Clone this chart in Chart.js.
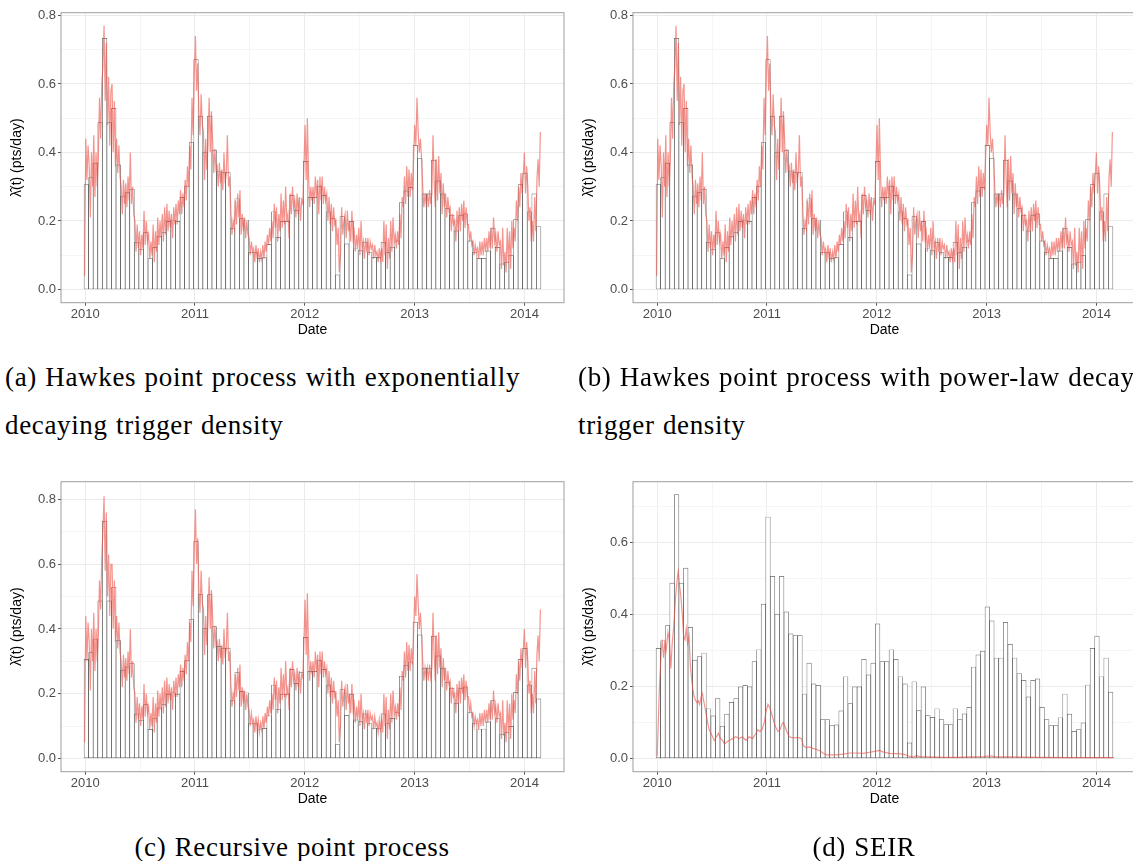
<!DOCTYPE html>
<html>
<head>
<meta charset="utf-8">
<script src="https://cdn.jsdelivr.net/npm/chart.js@4.4.1/dist/chart.umd.min.js"></script>
<style>
  html, body { margin: 0; padding: 0; background: #fff; }
  body { width: 1133px; height: 861px; overflow: hidden; position: relative; }
  .panel { position: absolute; width: 580px; height: 345px; }
  .cap { position: absolute; font-family: "Liberation Serif", "Times New Roman", serif; font-size: 27px;
         letter-spacing: 0.65px; word-spacing: 1px; color: #000; white-space: nowrap; line-height: 48px; }
</style>
</head>
<body>
<div class="panel" style="left:0;top:0"><canvas id="chartA"></canvas></div>
<div class="panel" style="left:572px;top:0"><canvas id="chartB"></canvas></div>
<div class="panel" style="left:0;top:469px"><canvas id="chartC"></canvas></div>
<div class="panel" style="left:572px;top:469px"><canvas id="chartD"></canvas></div>

<div class="cap" style="left:5px;top:353px">(a) Hawkes point process with exponentially</div>
<div class="cap" style="left:5px;top:401px">decaying trigger density</div>
<div class="cap" style="left:578px;top:353px">(b) Hawkes point process with power-law decaying</div>
<div class="cap" style="left:578px;top:401px">trigger density</div>
<div class="cap" style="left:0;width:584px;text-align:center;top:823px">(c) Recursive point process</div>
<div class="cap" style="left:572px;width:584px;text-align:center;top:823px">(d) SEIR</div>

<script>
// histogram bins (half-month-ish), decimal years
const binStart = 2009.99;
const binWidth = 0.0416;

// observed rate per bin (pts/day)
const observed = [
  0.306, 0.327, 0.369, 0.487, 0.733, 0.487, 0.529, 0.364, 0.273, 0.283,
  0.293, 0.138, 0.118, 0.166, 0.090, 0.123, 0.156, 0.166, 0.199, 0.203,
  0.199, 0.269, 0.302, 0.429, 0.671, 0.506, 0.401, 0.506, 0.407, 0.346,
  0.341, 0.341, 0.179, 0.265, 0.207, 0.203, 0.108, 0.108, 0.091, 0.093,
  0.132, 0.227, 0.152, 0.199, 0.199, 0.275, 0.232, 0.265, 0.374, 0.269,
  0.269, 0.302, 0.275, 0.227, 0.207, 0.043, 0.213, 0.133, 0.199, 0.119,
  0.114, 0.138, 0.108, 0.094, 0.094, 0.138, 0.108, 0.124, 0.142, 0.254,
  0.288, 0.298, 0.421, 0.382, 0.279, 0.279, 0.378, 0.317, 0.279, 0.236,
  0.217, 0.171, 0.217, 0.221, 0.142, 0.108, 0.091, 0.091, 0.113, 0.179,
  0.123, 0.075, 0.080, 0.099, 0.204, 0.306, 0.340, 0.227, 0.279, 0.184
];

// fitted intensity, 4 readings per bin
const samplesPerBin = 4;
const hawkesRate = [
  0.04,0.44,0.32,0.42, 0.36,0.21,0.40,0.30, 0.45,0.27,0.40,0.30, 0.38,0.56,0.44,0.60, 0.65,0.77,0.55,0.72,
  0.48,0.62,0.42,0.58, 0.60,0.40,0.55,0.36, 0.44,0.34,0.42,0.33, 0.30,0.22,0.32,0.25, 0.31,0.24,0.33,0.26,
  0.40,0.25,0.30,0.22, 0.20,0.11,0.19,0.12, 0.17,0.10,0.16,0.12, 0.23,0.13,0.20,0.14, 0.16,0.09,0.14,0.10,
  0.19,0.08,0.17,0.11, 0.21,0.13,0.20,0.15, 0.22,0.14,0.24,0.16, 0.25,0.17,0.23,0.18, 0.22,0.15,0.24,0.19,
  0.25,0.19,0.26,0.22, 0.29,0.22,0.28,0.24, 0.32,0.26,0.36,0.30, 0.42,0.35,0.56,0.45, 0.62,0.74,0.58,0.66,
  0.52,0.45,0.57,0.48, 0.46,0.32,0.44,0.35, 0.42,0.56,0.40,0.52, 0.44,0.34,0.41,0.35, 0.36,0.30,0.37,0.31,
  0.35,0.29,0.40,0.31, 0.34,0.45,0.30,0.33, 0.23,0.16,0.20,0.18, 0.26,0.19,0.28,0.21, 0.29,0.16,0.22,0.17,
  0.21,0.15,0.20,0.16, 0.15,0.10,0.14,0.11, 0.12,0.08,0.13,0.09, 0.12,0.08,0.11,0.09, 0.13,0.09,0.14,0.11,
  0.16,0.13,0.18,0.14, 0.20,0.15,0.25,0.18, 0.24,0.14,0.22,0.17, 0.28,0.18,0.26,0.19, 0.30,0.20,0.22,0.15,
  0.28,0.22,0.30,0.24, 0.26,0.21,0.28,0.22, 0.27,0.20,0.26,0.25, 0.36,0.48,0.32,0.50, 0.34,0.24,0.30,0.26,
  0.30,0.25,0.33,0.27, 0.32,0.22,0.33,0.26, 0.33,0.25,0.30,0.26, 0.28,0.20,0.27,0.19, 0.25,0.17,0.24,0.19,
  0.20,0.13,0.18,0.05, 0.10,0.24,0.16,0.20, 0.22,0.15,0.23,0.17, 0.20,0.14,0.23,0.15, 0.17,0.11,0.16,0.12,
  0.18,0.10,0.20,0.12, 0.14,0.09,0.15,0.11, 0.15,0.10,0.14,0.12, 0.13,0.09,0.13,0.10, 0.11,0.08,0.12,0.09,
  0.12,0.08,0.20,0.10, 0.19,0.06,0.15,0.09, 0.20,0.11,0.21,0.14, 0.16,0.12,0.17,0.13, 0.22,0.15,0.27,0.24,
  0.33,0.25,0.36,0.27, 0.35,0.27,0.34,0.29, 0.38,0.48,0.42,0.56, 0.46,0.40,0.44,0.38, 0.30,0.24,0.28,0.25,
  0.28,0.24,0.29,0.25, 0.28,0.45,0.32,0.24, 0.38,0.26,0.39,0.28, 0.34,0.22,0.31,0.24, 0.28,0.21,0.27,0.23,
  0.24,0.17,0.22,0.19, 0.20,0.14,0.23,0.17, 0.24,0.17,0.25,0.20, 0.26,0.18,0.24,0.19, 0.19,0.14,0.17,0.13,
  0.14,0.10,0.13,0.11, 0.12,0.09,0.14,0.10, 0.14,0.10,0.15,0.11, 0.15,0.11,0.17,0.12, 0.18,0.12,0.21,0.14,
  0.16,0.11,0.17,0.13, 0.14,0.06,0.18,0.07, 0.11,0.05,0.18,0.08, 0.17,0.06,0.20,0.12, 0.18,0.14,0.26,0.20,
  0.30,0.24,0.34,0.28, 0.33,0.40,0.28,0.36, 0.30,0.20,0.24,0.14, 0.20,0.14,0.27,0.17, 0.32,0.38,0.30,0.46
];

const recursiveRate = [
  0.05,0.44,0.30,0.42, 0.36,0.21,0.40,0.30, 0.45,0.27,0.40,0.30, 0.38,0.55,0.46,0.62, 0.70,0.81,0.58,0.76,
  0.50,0.63,0.44,0.60, 0.60,0.40,0.55,0.36, 0.44,0.34,0.42,0.33, 0.30,0.22,0.32,0.25, 0.31,0.24,0.33,0.26,
  0.40,0.25,0.30,0.22, 0.20,0.11,0.19,0.12, 0.17,0.10,0.16,0.12, 0.23,0.13,0.20,0.14, 0.16,0.09,0.14,0.10,
  0.19,0.08,0.17,0.11, 0.21,0.13,0.20,0.15, 0.22,0.14,0.24,0.16, 0.25,0.17,0.23,0.18, 0.22,0.15,0.24,0.19,
  0.25,0.19,0.26,0.22, 0.29,0.22,0.28,0.24, 0.32,0.26,0.36,0.30, 0.42,0.36,0.58,0.47, 0.64,0.77,0.60,0.68,
  0.52,0.45,0.58,0.48, 0.46,0.32,0.44,0.35, 0.42,0.56,0.40,0.52, 0.44,0.34,0.41,0.35, 0.36,0.30,0.37,0.31,
  0.35,0.29,0.40,0.31, 0.34,0.45,0.30,0.33, 0.23,0.16,0.20,0.18, 0.26,0.19,0.28,0.21, 0.29,0.16,0.22,0.17,
  0.21,0.15,0.20,0.16, 0.15,0.10,0.14,0.11, 0.12,0.08,0.13,0.09, 0.12,0.08,0.11,0.09, 0.13,0.09,0.14,0.11,
  0.16,0.13,0.18,0.14, 0.20,0.15,0.25,0.18, 0.24,0.14,0.22,0.17, 0.28,0.18,0.26,0.19, 0.30,0.20,0.22,0.15,
  0.28,0.22,0.30,0.24, 0.26,0.21,0.28,0.22, 0.27,0.20,0.26,0.25, 0.36,0.49,0.32,0.51, 0.34,0.24,0.30,0.26,
  0.30,0.25,0.33,0.27, 0.32,0.22,0.33,0.26, 0.33,0.25,0.30,0.26, 0.28,0.20,0.27,0.19, 0.25,0.17,0.24,0.19,
  0.20,0.13,0.18,0.05, 0.10,0.24,0.16,0.20, 0.22,0.15,0.23,0.17, 0.20,0.14,0.23,0.15, 0.17,0.11,0.16,0.12,
  0.18,0.10,0.20,0.12, 0.14,0.09,0.15,0.11, 0.15,0.10,0.14,0.12, 0.13,0.09,0.13,0.10, 0.11,0.08,0.12,0.09,
  0.12,0.08,0.20,0.10, 0.19,0.06,0.15,0.09, 0.20,0.11,0.21,0.14, 0.16,0.12,0.17,0.13, 0.22,0.15,0.27,0.24,
  0.33,0.25,0.36,0.27, 0.35,0.27,0.34,0.29, 0.38,0.50,0.44,0.57, 0.48,0.40,0.45,0.38, 0.30,0.24,0.28,0.25,
  0.28,0.24,0.29,0.25, 0.28,0.45,0.32,0.24, 0.38,0.26,0.39,0.28, 0.34,0.22,0.31,0.24, 0.28,0.21,0.27,0.23,
  0.24,0.17,0.22,0.19, 0.20,0.14,0.23,0.17, 0.24,0.17,0.25,0.20, 0.26,0.18,0.24,0.19, 0.19,0.14,0.17,0.13,
  0.14,0.10,0.13,0.11, 0.12,0.09,0.14,0.10, 0.14,0.10,0.15,0.11, 0.15,0.11,0.17,0.12, 0.18,0.12,0.21,0.14,
  0.16,0.11,0.17,0.13, 0.14,0.06,0.18,0.07, 0.11,0.05,0.18,0.08, 0.17,0.06,0.20,0.12, 0.18,0.14,0.26,0.20,
  0.30,0.24,0.34,0.28, 0.33,0.40,0.28,0.36, 0.30,0.20,0.24,0.14, 0.20,0.14,0.27,0.17, 0.32,0.38,0.30,0.46
];

// SEIR fit: dates (decimal years) and rate
const seirDates = [
  2010.000, 2010.021, 2010.037, 2010.046, 2010.058, 2010.070, 2010.082, 2010.098, 2010.110, 2010.125,
  2010.137, 2010.152, 2010.168, 2010.183, 2010.192, 2010.204, 2010.216, 2010.229, 2010.241, 2010.253,
  2010.265, 2010.277, 2010.290, 2010.302, 2010.314, 2010.326, 2010.338, 2010.351, 2010.363, 2010.375,
  2010.387, 2010.399, 2010.412, 2010.424, 2010.436, 2010.448, 2010.460, 2010.473, 2010.497, 2010.521,
  2010.540, 2010.558, 2010.576, 2010.595, 2010.613, 2010.631, 2010.655, 2010.686, 2010.716, 2010.747,
  2010.777, 2010.808, 2010.838, 2010.869, 2010.899, 2010.918, 2010.936, 2010.954, 2010.976, 2010.991,
  2011.009, 2011.027, 2011.046, 2011.064, 2011.082, 2011.101, 2011.119, 2011.137, 2011.149, 2011.168,
  2011.186, 2011.204, 2011.235, 2011.265, 2011.296, 2011.314, 2011.332, 2011.357, 2011.387, 2011.418,
  2011.448, 2011.479, 2011.509, 2011.540, 2011.570, 2011.631, 2011.692, 2011.753, 2011.814, 2011.875,
  2011.936, 2011.994, 2012.024, 2012.055, 2012.116, 2012.177, 2012.238, 2012.299, 2012.329, 2012.360,
  2012.390, 2012.482, 2012.604, 2012.726, 2012.848, 2012.970, 2013.030, 2013.091, 2013.213, 2013.457,
  2013.762, 2014.067, 2014.159
];
const seirRate = [
  0.005, 0.200, 0.300, 0.330, 0.280, 0.320, 0.300, 0.350, 0.330, 0.250,
  0.320, 0.370, 0.450, 0.500, 0.520, 0.480, 0.450, 0.400, 0.340, 0.330,
  0.360, 0.320, 0.340, 0.260, 0.220, 0.190, 0.170, 0.160, 0.155, 0.160,
  0.150, 0.170, 0.180, 0.160, 0.140, 0.120, 0.100, 0.080, 0.065, 0.050,
  0.060, 0.070, 0.055, 0.050, 0.040, 0.045, 0.050, 0.055, 0.060, 0.055,
  0.060, 0.050, 0.060, 0.055, 0.070, 0.080, 0.075, 0.080, 0.100, 0.130,
  0.150, 0.140, 0.120, 0.100, 0.085, 0.075, 0.080, 0.095, 0.100, 0.085,
  0.070, 0.060, 0.057, 0.058, 0.057, 0.055, 0.035, 0.030, 0.032, 0.028,
  0.025, 0.022, 0.015, 0.010, 0.010, 0.010, 0.012, 0.015, 0.015, 0.014,
  0.017, 0.020, 0.022, 0.018, 0.014, 0.013, 0.012, 0.006, 0.003, 0.008,
  0.005, 0.004, 0.003, 0.003, 0.004, 0.005, 0.007, 0.004, 0.004, 0.003,
  0.002, 0.002, 0.002
];

// axes
const yearTicks = [2010, 2011, 2012, 2013, 2014];
const yearMinorTicks = [2010.5, 2011.5, 2012.5, 2013.5];
const rateTicks = [0, 0.2, 0.4, 0.6, 0.8];
const rateMinorTicks = [0.1, 0.3, 0.5, 0.7];
const dateRange = [2009.78, 2014.36];
const rangeAB = [-0.0385, 0.808];
const rangeC = [-0.041, 0.855];
const rangeD = [-0.037, 0.769];

Chart.defaults.font.family = '"Liberation Sans", Arial, Helvetica, sans-serif';
Chart.defaults.animation = false;

const observedPts = observed.map((v, i) => ({ x: binStart + (i + 0.5) * binWidth, y: v }));
const toPts = arr => arr.map((v, j) => ({ x: binStart + (j + 0.5) / samplesPerBin * binWidth, y: v }));

const panelBorder = {
  id: 'panelBorder',
  afterDatasetsDraw(chart) {
    const { ctx, chartArea: a } = chart;
    ctx.save();
    ctx.strokeStyle = '#9e9e9e';
    ctx.lineWidth = 1;
    ctx.strokeRect(a.left, a.top, a.right - a.left, a.bottom - a.top);
    ctx.restore();
  }
};

function makeChart(id, linePts, yRange) {
  const ctx = document.getElementById(id).getContext('2d');
  const yAll = rateTicks.concat(rateMinorTicks).filter(v => v >= yRange[0] && v <= yRange[1]).sort((a, b) => a - b);
  const xAll = yearTicks.concat(yearMinorTicks).sort((a, b) => a - b);
  new Chart(ctx, {
    type: 'bar',
    data: {
      datasets: [
        {
          type: 'line',
          data: linePts,
          borderColor: 'rgba(236,76,66,0.6)',
          borderWidth: 1.2,
          pointRadius: 0,
          tension: 0,
          order: 0
        },
        {
          type: 'bar',
          data: observedPts,
          backgroundColor: '#ffffff',
          borderColor: 'rgba(0,0,0,0.6)',
          borderWidth: 0.7,
          borderSkipped: false,
          barThickness: 'flex',
          barPercentage: 1,
          categoryPercentage: 1,
          order: 1
        }
      ]
    },
    options: {
      responsive: true,
      maintainAspectRatio: false,
      layout: { padding: { top: 12.7, right: 16, left: 0, bottom: 0 } },
      plugins: { legend: { display: false }, tooltip: { enabled: false } },
      scales: {
        x: {
          type: 'linear',
          min: dateRange[0],
          max: dateRange[1],
          offset: false,
          afterBuildTicks: s => { s.ticks = xAll.map(v => ({ value: v })); },
          afterFit: s => { s.height = 42.3; },
          grid: {
            offset: false,
            color: c => yearTicks.includes(c.tick.value) ? '#ebebeb' : '#f5f5f5',
            lineWidth: 1,
            tickLength: 3,
            tickColor: c => yearTicks.includes(c.tick.value) ? '#555' : 'rgba(0,0,0,0)'
          },
          border: { display: false },
          ticks: {
            autoSkip: false, maxRotation: 0, padding: 1, color: '#4d4d4d',
            font: { size: 13 },
            callback: v => yearTicks.includes(v) ? String(v) : ''
          },
          title: { display: true, text: 'Date', color: '#000', font: { size: 14 }, padding: { top: 0, bottom: 6.6 } }
        },
        y: {
          type: 'linear',
          min: yRange[0],
          max: yRange[1],
          afterBuildTicks: s => { s.ticks = yAll.map(v => ({ value: v })); },
          afterFit: s => { s.width = 61; },
          grid: {
            color: c => rateTicks.includes(c.tick.value) ? '#ebebeb' : '#f5f5f5',
            lineWidth: 1,
            tickLength: 3,
            tickColor: c => rateTicks.includes(c.tick.value) ? '#555' : 'rgba(0,0,0,0)'
          },
          border: { display: false },
          ticks: {
            autoSkip: false, padding: 2, color: '#4d4d4d',
            font: { size: 13 },
            callback: v => rateTicks.includes(v) ? v.toFixed(1) : ''
          },
          title: { display: true, text: 'λ\u0302(t) (pts/day)', color: '#000', font: { size: 14 }, padding: { top: 9, bottom: 0 } }
        }
      }
    },
    plugins: [panelBorder]
  });
}

makeChart('chartA', toPts(hawkesRate), rangeAB);
makeChart('chartB', toPts(hawkesRate), rangeAB);
makeChart('chartC', toPts(recursiveRate), rangeC);
makeChart('chartD', seirDates.map((d, i) => ({ x: d, y: seirRate[i] })), rangeD);
</script>
</body>
</html>
